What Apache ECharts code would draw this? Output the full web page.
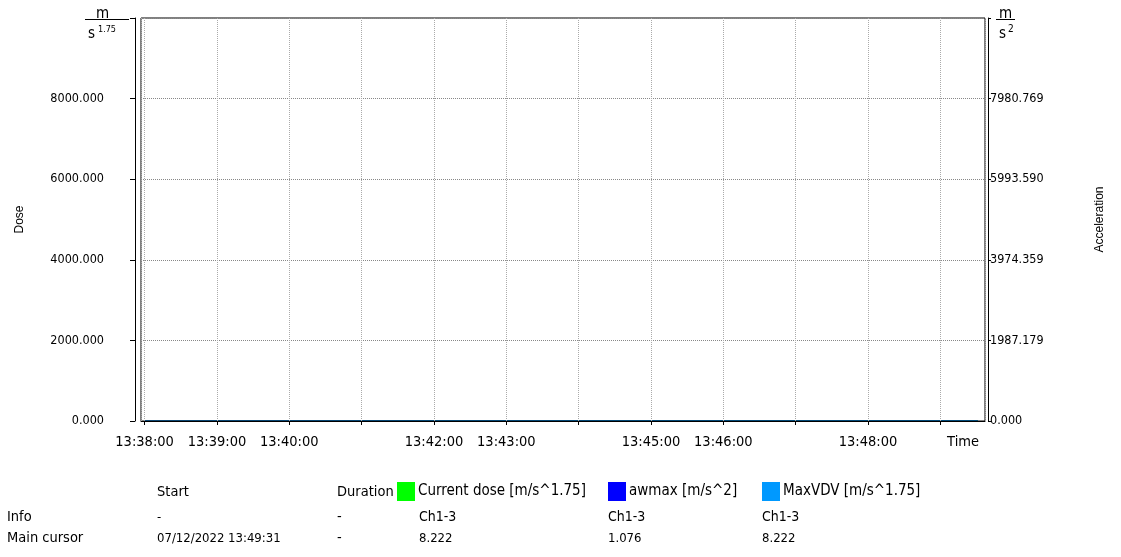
<!DOCTYPE html>
<html>
<head>
<meta charset="utf-8">
<script src="https://cdn.jsdelivr.net/npm/echarts@6/dist/echarts.min.js"></script>
<style>
  html, body { margin: 0; padding: 0; background: #fff; }
  #chart { width: 1121px; height: 557px; }
</style>
</head>
<body>
<div id="chart"></div>
<script>
// data
const timeStart = "13:37:57";
const timeEnd = "13:49:37";
const sampleTimes = ["13:38:00", "13:39:00", "13:40:00", "13:41:00", "13:42:00", "13:43:00", "13:44:00",
  "13:45:00", "13:46:00", "13:47:00", "13:48:00", "13:49:00", "13:49:31"];
const currentDose = [0.6, 2.1, 3.0, 3.8, 4.5, 5.0, 5.6, 6.1, 6.6, 7.1, 7.6, 8.0, 8.222];
const awmax = [0.55, 0.81, 0.92, 0.95, 1.0, 1.02, 1.03, 1.05, 1.05, 1.06, 1.07, 1.076, 1.076];
const maxVDV = [0.6, 2.1, 3.0, 3.8, 4.5, 5.0, 5.6, 6.1, 6.6, 7.1, 7.6, 8.0, 8.222];
const timeTickLabels = ["13:38:00", "13:39:00", "13:40:00", "13:42:00", "13:43:00", "13:45:00", "13:46:00", "13:48:00"];
const doseTickLabels = ["0.000", "2000.000", "4000.000", "6000.000", "8000.000"];
const accTickLabels = ["0.000", "1987.179", "3974.359", "5993.590", "7980.769"];

const seriesNames = ["Current dose [m/s^1.75]", "awmax [m/s^2]", "MaxVDV [m/s^1.75]"];
const seriesColors = ["#00ff00", "#0000ff", "#0099ff"];
const rowLabels = ["Info", "Main cursor"];
const startCol = ["-", "07/12/2022 13:49:31"];
const durationCol = ["-", "-"];
const infoCol = ["Ch1-3", "Ch1-3", "Ch1-3"];
const cursorCol = ["8.222", "1.076", "8.222"];

const FONT = "'DejaVu Sans Condensed', 'Liberation Sans', sans-serif";

function toTs(s) {
  const p = s.split(":").map(Number);
  return Date.UTC(2022, 6, 12, p[0], p[1], p[2]);
}
function pad(n) { return (n < 10 ? "0" : "") + n; }
function fmtTime(v) {
  const d = new Date(v);
  return pad(d.getUTCHours()) + ":" + pad(d.getUTCMinutes()) + ":" + pad(d.getUTCSeconds());
}

const chart = echarts.init(document.getElementById("chart"));

// legend squares and value columns (x pixel)
const legendX = [397, 608, 762];
const valueX = [419, 608, 762];
const rowY = [518, 539];

function txt(x, y, s, size) {
  return { type: "text", left: x, top: y, style: { text: s, font: size + "px " + FONT, fill: "#000" } };
}

const graphics = [];
// unit fractions
graphics.push(
  txt(96, 7, "m", 15),
  { type: "line", shape: { x1: 85, y1: 19.5, x2: 129, y2: 19.5 }, style: { stroke: "#000", lineWidth: 1 } },
  txt(88, 27, "s", 15),
  txt(98, 25, "1.75", 9),
  txt(999, 7, "m", 15),
  { type: "line", shape: { x1: 996, y1: 19.5, x2: 1015, y2: 19.5 }, style: { stroke: "#000", lineWidth: 1 } },
  txt(999, 27, "s", 15),
  txt(1008, 24, "2", 10)
);
// table header
graphics.push(txt(157, 485, "Start", 14.5), txt(337, 485, "Duration", 14.5));
rowLabels.forEach((r, i) => {
  graphics.push(
    txt(7, rowY[i] - 8, r, 14.5),
    txt(157, rowY[i] - 7, startCol[i], 13),
    txt(337, rowY[i] - 8, durationCol[i], 14.5)
  );
});
seriesNames.forEach((n, i) => {
  graphics.push(
    txt(valueX[i], rowY[0] - 8, infoCol[i], 14),
    txt(valueX[i], rowY[1] - 7, cursorCol[i], 13)
  );
});

chart.setOption({
  useUTC: true,
  animation: false,
  backgroundColor: "#fff",
  grid: {
    left: 141, right: 136, top: 18, bottom: 136,
    show: true, borderColor: "#000", borderWidth: 1
  },
  legend: seriesNames.map((n, i) => ({
    data: [n],
    left: legendX[i],
    top: 482,
    icon: "rect",
    itemWidth: 18,
    itemHeight: 19,
    itemGap: 0,
    padding: 0,
    selectedMode: false,
    textStyle: { fontFamily: FONT, fontSize: 15, color: "#000", padding: [2, 0, 0, -2] }
  })),
  xAxis: {
    type: "time",
    min: toTs(timeStart),
    max: toTs(timeEnd),
    minInterval: 60000,
    maxInterval: 60000,
    offset: 6,
    name: "Time",
    nameLocation: "end",
    nameGap: -6,
    nameTextStyle: { fontFamily: FONT, fontSize: 14.5, color: "#000", align: "right", verticalAlign: "top", padding: [14, 0, 0, 0] },
    axisLine: { show: true, lineStyle: { color: "#000", width: 1 } },
    axisTick: { show: true, length: 4, lineStyle: { color: "#000" } },
    axisLabel: {
      fontFamily: FONT, fontSize: 14.5, color: "#000", margin: 8,
      showMinLabel: false, showMaxLabel: false,
      formatter: v => { const t = fmtTime(v); return timeTickLabels.indexOf(t) >= 0 ? t : ""; }
    },
    splitLine: { show: true, lineStyle: { color: "#aaa", type: "dotted" } }
  },
  yAxis: [
    {
      type: "value", min: 0, max: 10000, interval: 2000,
      position: "left", offset: 6,
      name: "Dose", nameLocation: "middle", nameGap: 109, nameRotate: 90,
      nameTextStyle: { fontFamily: "'Liberation Sans', Arial, sans-serif", fontSize: 12, color: "#000" },
      axisLine: { show: true, lineStyle: { color: "#000" } },
      axisTick: { show: true, length: 5, lineStyle: { color: "#000" } },
      axisLabel: {
        fontFamily: FONT, fontSize: 12.5, color: "#000", margin: 31,
        formatter: (v, i) => doseTickLabels[i] !== undefined ? doseTickLabels[i] : ""
      },
      splitLine: { show: true, lineStyle: { color: "#888", type: "dotted" } }
    },
    {
      type: "value", min: 0, max: 10000, interval: 2000,
      position: "right", offset: 3,
      name: "Acceleration", nameLocation: "middle", nameGap: 106, nameRotate: 90,
      nameTextStyle: { fontFamily: "'Liberation Sans', Arial, sans-serif", fontSize: 12, color: "#000" },
      axisLine: { show: true, lineStyle: { color: "#000" } },
      axisTick: { show: true, length: 3, lineStyle: { color: "#000" } },
      axisLabel: {
        fontFamily: FONT, fontSize: 12.5, color: "#000", margin: 2,
        formatter: (v, i) => accTickLabels[i] !== undefined ? accTickLabels[i] : ""
      },
      splitLine: { show: false }
    }
  ],
  series: [
    {
      name: seriesNames[0], type: "line", yAxisIndex: 0, showSymbol: false, z: -1,
      itemStyle: { color: seriesColors[0] }, lineStyle: { width: 1 },
      data: sampleTimes.map((t, i) => [toTs(t), currentDose[i]])
    },
    {
      name: seriesNames[1], type: "line", yAxisIndex: 1, showSymbol: false, z: -1,
      itemStyle: { color: seriesColors[1] }, lineStyle: { width: 1 },
      data: sampleTimes.map((t, i) => [toTs(t), awmax[i]])
    },
    {
      name: seriesNames[2], type: "line", yAxisIndex: 0, showSymbol: false, z: -1,
      itemStyle: { color: seriesColors[2] }, lineStyle: { width: 1 },
      data: sampleTimes.map((t, i) => [toTs(t), maxVDV[i]])
    }
  ],
  graphic: graphics
});
</script>
</body>
</html>
